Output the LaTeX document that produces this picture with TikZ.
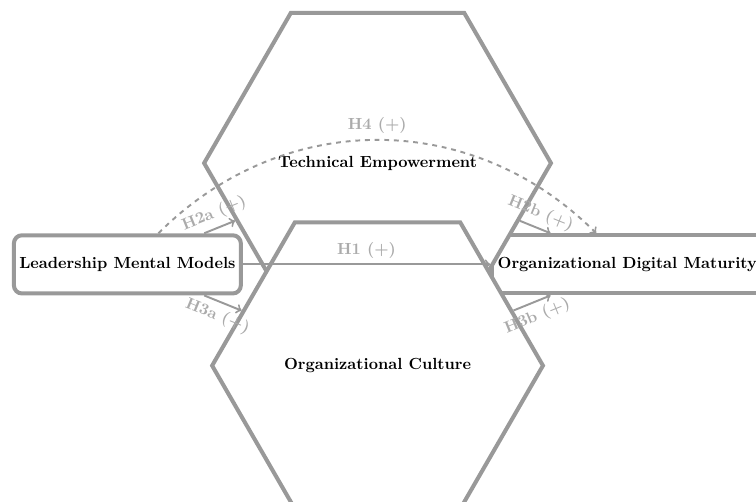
\documentclass[tikz,border=0pt]{standalone}
\usetikzlibrary{shapes.geometric}
\begin{document}
\begin{tikzpicture}[
    hexa/.style={regular polygon, regular polygon sides=6, draw=black!40, line width=2.5pt, fill=white, font=\bfseries, inner sep=0pt},
    waku/.style={rectangle, draw=black!40, line width=2.5pt, font=\bfseries, minimum height=1.27cm},
    yaji/.style={->, draw=black!40, line width=1.2pt},
    hlabel/.style={text=black!33, font=\bfseries}
  ]
  \useasboundingbox (0,0) rectangle (16.5,10.94);
  \clip (0,0) rectangle (16.5,10.94);

  % 右の箱 (六角形の後ろ)
  \node[waku] (odm) at (13.69,5.17) {\phantom{Organizational Digital Maturity}};

  % 六角形
  \node[hexa, minimum size=7.57cm] (te) at (8.24,7.38) {Technical Empowerment};
  \node[hexa, minimum size=7.22cm] (oc) at (8.24,2.96) {Organizational Culture};

  % 左の箱
  \node[waku, rounded corners=5pt, minimum width=4.95cm, fill=white] (lmm) at (2.78,5.17) {Leadership Mental Models};
  \node[font=\bfseries] (odmtext) at (odm) {Organizational Digital Maturity};

  % 矢印を引く
  \draw[yaji] (lmm) -- node[hlabel, above] {H1 (+)} (odm);
  \draw[yaji] (lmm) -- node[hlabel, above, sloped] {H2a (+)} (te);
  \draw[yaji] (lmm) -- node[hlabel, below, sloped] {H3a (+)} (oc);
  \draw[yaji] (te) -- node[hlabel, above, sloped] {H2b (+)} (odm);
  \draw[yaji] (oc) -- node[hlabel, below, sloped] {H3b (+)} (odm);
  \draw[yaji, dashed] (lmm) to[bend left=45, looseness=1.03] node[hlabel, above] {H4 (+)} (odm);
\end{tikzpicture}
\end{document}
